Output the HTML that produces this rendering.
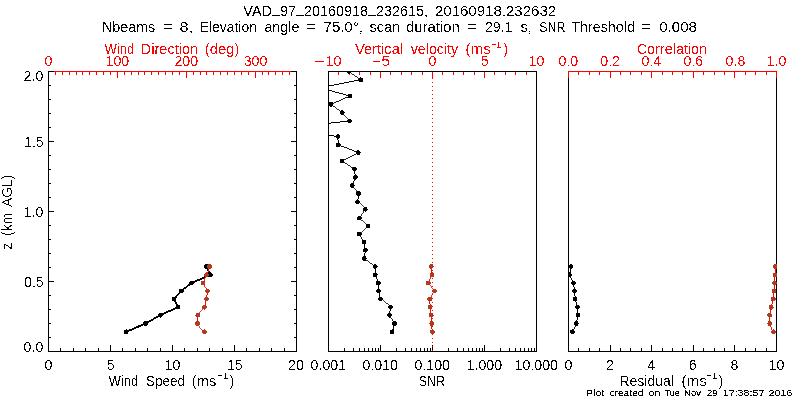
<!DOCTYPE html>
<html><head><meta charset="utf-8"><title>VAD plot</title>
<style>
html,body{margin:0;padding:0;background:#fff;width:800px;height:400px;overflow:hidden}
svg{display:block}
text{font-family:"Liberation Sans", sans-serif;word-spacing:0.2em}
</style></head><body>
<svg width="800" height="400" viewBox="0 0 800 400">
<defs>
<filter id="crisp" x="0" y="0" width="800" height="400" filterUnits="userSpaceOnUse"><feComponentTransfer><feFuncA type="discrete" tableValues="0 1"/></feComponentTransfer></filter>
<filter id="crisp3" x="0" y="0" width="800" height="400" filterUnits="userSpaceOnUse"><feComponentTransfer><feFuncA type="discrete" tableValues="0 0 0 1 1"/></feComponentTransfer></filter>
<filter id="crisp2" x="0" y="0" width="800" height="400" filterUnits="userSpaceOnUse"><feComponentTransfer><feFuncA type="discrete" tableValues="0 0 1 1 1"/></feComponentTransfer></filter>
<clipPath id="c1"><rect x="48" y="71" width="249" height="281"/></clipPath>
<clipPath id="c2"><rect x="328" y="71" width="209" height="281"/></clipPath>
<clipPath id="c3"><rect x="568" y="71" width="209" height="281"/></clipPath>
</defs>
<rect width="800" height="400" fill="#fff"/>
<g shape-rendering="crispEdges">
<rect x="48" y="71" width="249" height="1" fill="#ff0000"/>
<rect x="48" y="72" width="1" height="6" fill="#ff0000"/>
<rect x="55" y="72" width="1" height="3" fill="#ff0000"/>
<rect x="62" y="72" width="1" height="3" fill="#ff0000"/>
<rect x="69" y="72" width="1" height="3" fill="#ff0000"/>
<rect x="76" y="72" width="1" height="3" fill="#ff0000"/>
<rect x="82" y="72" width="1" height="3" fill="#ff0000"/>
<rect x="89" y="72" width="1" height="3" fill="#ff0000"/>
<rect x="96" y="72" width="1" height="3" fill="#ff0000"/>
<rect x="103" y="72" width="1" height="3" fill="#ff0000"/>
<rect x="110" y="72" width="1" height="3" fill="#ff0000"/>
<rect x="117" y="72" width="1" height="6" fill="#ff0000"/>
<rect x="124" y="72" width="1" height="3" fill="#ff0000"/>
<rect x="131" y="72" width="1" height="3" fill="#ff0000"/>
<rect x="138" y="72" width="1" height="3" fill="#ff0000"/>
<rect x="144" y="72" width="1" height="3" fill="#ff0000"/>
<rect x="151" y="72" width="1" height="3" fill="#ff0000"/>
<rect x="158" y="72" width="1" height="3" fill="#ff0000"/>
<rect x="165" y="72" width="1" height="3" fill="#ff0000"/>
<rect x="172" y="72" width="1" height="3" fill="#ff0000"/>
<rect x="179" y="72" width="1" height="3" fill="#ff0000"/>
<rect x="186" y="72" width="1" height="6" fill="#ff0000"/>
<rect x="193" y="72" width="1" height="3" fill="#ff0000"/>
<rect x="200" y="72" width="1" height="3" fill="#ff0000"/>
<rect x="206" y="72" width="1" height="3" fill="#ff0000"/>
<rect x="213" y="72" width="1" height="3" fill="#ff0000"/>
<rect x="220" y="72" width="1" height="3" fill="#ff0000"/>
<rect x="227" y="72" width="1" height="3" fill="#ff0000"/>
<rect x="234" y="72" width="1" height="3" fill="#ff0000"/>
<rect x="241" y="72" width="1" height="3" fill="#ff0000"/>
<rect x="248" y="72" width="1" height="3" fill="#ff0000"/>
<rect x="255" y="72" width="1" height="6" fill="#ff0000"/>
<rect x="262" y="72" width="1" height="3" fill="#ff0000"/>
<rect x="268" y="72" width="1" height="3" fill="#ff0000"/>
<rect x="275" y="72" width="1" height="3" fill="#ff0000"/>
<rect x="282" y="72" width="1" height="3" fill="#ff0000"/>
<rect x="289" y="72" width="1" height="3" fill="#ff0000"/>
<rect x="296" y="72" width="1" height="3" fill="#ff0000"/>
<rect x="48" y="71" width="1" height="281" fill="#000000"/>
<rect x="296" y="71" width="1" height="281" fill="#000000"/>
<rect x="48" y="351" width="249" height="1" fill="#000000"/>
<rect x="48" y="351" width="6" height="1" fill="#000000"/>
<rect x="291" y="351" width="6" height="1" fill="#000000"/>
<rect x="48" y="337" width="3" height="1" fill="#000000"/>
<rect x="294" y="337" width="3" height="1" fill="#000000"/>
<rect x="48" y="323" width="3" height="1" fill="#000000"/>
<rect x="294" y="323" width="3" height="1" fill="#000000"/>
<rect x="48" y="309" width="3" height="1" fill="#000000"/>
<rect x="294" y="309" width="3" height="1" fill="#000000"/>
<rect x="48" y="295" width="3" height="1" fill="#000000"/>
<rect x="294" y="295" width="3" height="1" fill="#000000"/>
<rect x="48" y="281" width="6" height="1" fill="#000000"/>
<rect x="291" y="281" width="6" height="1" fill="#000000"/>
<rect x="48" y="267" width="3" height="1" fill="#000000"/>
<rect x="294" y="267" width="3" height="1" fill="#000000"/>
<rect x="48" y="253" width="3" height="1" fill="#000000"/>
<rect x="294" y="253" width="3" height="1" fill="#000000"/>
<rect x="48" y="239" width="3" height="1" fill="#000000"/>
<rect x="294" y="239" width="3" height="1" fill="#000000"/>
<rect x="48" y="225" width="3" height="1" fill="#000000"/>
<rect x="294" y="225" width="3" height="1" fill="#000000"/>
<rect x="48" y="211" width="6" height="1" fill="#000000"/>
<rect x="291" y="211" width="6" height="1" fill="#000000"/>
<rect x="48" y="197" width="3" height="1" fill="#000000"/>
<rect x="294" y="197" width="3" height="1" fill="#000000"/>
<rect x="48" y="183" width="3" height="1" fill="#000000"/>
<rect x="294" y="183" width="3" height="1" fill="#000000"/>
<rect x="48" y="169" width="3" height="1" fill="#000000"/>
<rect x="294" y="169" width="3" height="1" fill="#000000"/>
<rect x="48" y="155" width="3" height="1" fill="#000000"/>
<rect x="294" y="155" width="3" height="1" fill="#000000"/>
<rect x="48" y="141" width="6" height="1" fill="#000000"/>
<rect x="291" y="141" width="6" height="1" fill="#000000"/>
<rect x="48" y="127" width="3" height="1" fill="#000000"/>
<rect x="294" y="127" width="3" height="1" fill="#000000"/>
<rect x="48" y="113" width="3" height="1" fill="#000000"/>
<rect x="294" y="113" width="3" height="1" fill="#000000"/>
<rect x="48" y="99" width="3" height="1" fill="#000000"/>
<rect x="294" y="99" width="3" height="1" fill="#000000"/>
<rect x="48" y="85" width="3" height="1" fill="#000000"/>
<rect x="294" y="85" width="3" height="1" fill="#000000"/>
<rect x="48" y="71" width="6" height="1" fill="#000000"/>
<rect x="291" y="71" width="6" height="1" fill="#000000"/>
<rect x="48" y="345" width="1" height="7" fill="#000000"/>
<rect x="60" y="348" width="1" height="4" fill="#000000"/>
<rect x="73" y="348" width="1" height="4" fill="#000000"/>
<rect x="85" y="348" width="1" height="4" fill="#000000"/>
<rect x="98" y="348" width="1" height="4" fill="#000000"/>
<rect x="110" y="345" width="1" height="7" fill="#000000"/>
<rect x="122" y="348" width="1" height="4" fill="#000000"/>
<rect x="135" y="348" width="1" height="4" fill="#000000"/>
<rect x="147" y="348" width="1" height="4" fill="#000000"/>
<rect x="160" y="348" width="1" height="4" fill="#000000"/>
<rect x="172" y="345" width="1" height="7" fill="#000000"/>
<rect x="184" y="348" width="1" height="4" fill="#000000"/>
<rect x="197" y="348" width="1" height="4" fill="#000000"/>
<rect x="209" y="348" width="1" height="4" fill="#000000"/>
<rect x="222" y="348" width="1" height="4" fill="#000000"/>
<rect x="234" y="345" width="1" height="7" fill="#000000"/>
<rect x="246" y="348" width="1" height="4" fill="#000000"/>
<rect x="259" y="348" width="1" height="4" fill="#000000"/>
<rect x="271" y="348" width="1" height="4" fill="#000000"/>
<rect x="284" y="348" width="1" height="4" fill="#000000"/>
<rect x="296" y="345" width="1" height="7" fill="#000000"/>
<g stroke="#000000" clip-path="url(#c1)"><line x1="126.20" y1="331.80" x2="145.50" y2="323.50" stroke-width="1.837"/><line x1="145.50" y1="323.50" x2="160.50" y2="315.20" stroke-width="1.750"/><line x1="160.50" y1="315.20" x2="177.80" y2="307.20" stroke-width="1.815"/><line x1="177.80" y1="307.20" x2="174.20" y2="299.00" stroke-width="1.831"/><line x1="174.20" y1="299.00" x2="181.30" y2="291.00" stroke-width="1.496"/><line x1="181.30" y1="291.00" x2="191.50" y2="283.00" stroke-width="1.574"/><line x1="191.50" y1="283.00" x2="210.40" y2="274.80" stroke-width="1.835"/><line x1="210.40" y1="274.80" x2="206.40" y2="266.50" stroke-width="1.802"/></g>
<g fill="#000000" clip-path="url(#c1)"><circle cx="126.20" cy="331.80" r="2.4"/><circle cx="145.50" cy="323.50" r="2.4"/><circle cx="160.50" cy="315.20" r="2.4"/><circle cx="177.80" cy="307.20" r="2.4"/><circle cx="174.20" cy="299.00" r="2.4"/><circle cx="181.30" cy="291.00" r="2.4"/><circle cx="191.50" cy="283.00" r="2.4"/><circle cx="210.40" cy="274.80" r="2.4"/><circle cx="206.40" cy="266.50" r="2.4"/></g>
<g stroke="#ff0000" clip-path="url(#c1)"><line x1="204.40" y1="331.80" x2="197.50" y2="323.50" stroke-width="0.769"/><line x1="197.50" y1="323.50" x2="197.75" y2="315.20" stroke-width="1.000"/><line x1="197.75" y1="315.20" x2="204.40" y2="307.20" stroke-width="0.769"/><line x1="204.40" y1="307.20" x2="206.60" y2="299.00" stroke-width="0.966"/><line x1="206.60" y1="299.00" x2="207.50" y2="291.00" stroke-width="0.994"/><line x1="207.50" y1="291.00" x2="203.00" y2="283.00" stroke-width="0.872"/><line x1="203.00" y1="283.00" x2="206.50" y2="274.80" stroke-width="0.920"/><line x1="206.50" y1="274.80" x2="209.50" y2="266.50" stroke-width="0.940"/></g>
<g fill="#b03c20" clip-path="url(#c1)"><circle cx="204.40" cy="331.80" r="2.4"/><circle cx="197.50" cy="323.50" r="2.4"/><circle cx="197.75" cy="315.20" r="2.4"/><circle cx="204.40" cy="307.20" r="2.4"/><circle cx="206.60" cy="299.00" r="2.4"/><circle cx="207.50" cy="291.00" r="2.4"/><circle cx="203.00" cy="283.00" r="2.4"/><circle cx="206.50" cy="274.80" r="2.4"/><circle cx="209.50" cy="266.50" r="2.4"/></g>
<rect x="328" y="72" width="1" height="6" fill="#ff0000"/>
<rect x="338" y="72" width="1" height="3" fill="#ff0000"/>
<rect x="349" y="72" width="1" height="3" fill="#ff0000"/>
<rect x="359" y="72" width="1" height="3" fill="#ff0000"/>
<rect x="370" y="72" width="1" height="3" fill="#ff0000"/>
<rect x="380" y="72" width="1" height="6" fill="#ff0000"/>
<rect x="390" y="72" width="1" height="3" fill="#ff0000"/>
<rect x="401" y="72" width="1" height="3" fill="#ff0000"/>
<rect x="411" y="72" width="1" height="3" fill="#ff0000"/>
<rect x="422" y="72" width="1" height="3" fill="#ff0000"/>
<rect x="432" y="72" width="1" height="6" fill="#ff0000"/>
<rect x="442" y="72" width="1" height="3" fill="#ff0000"/>
<rect x="453" y="72" width="1" height="3" fill="#ff0000"/>
<rect x="463" y="72" width="1" height="3" fill="#ff0000"/>
<rect x="474" y="72" width="1" height="3" fill="#ff0000"/>
<rect x="484" y="72" width="1" height="6" fill="#ff0000"/>
<rect x="494" y="72" width="1" height="3" fill="#ff0000"/>
<rect x="505" y="72" width="1" height="3" fill="#ff0000"/>
<rect x="515" y="72" width="1" height="3" fill="#ff0000"/>
<rect x="526" y="72" width="1" height="3" fill="#ff0000"/>
<rect x="536" y="72" width="1" height="6" fill="#ff0000"/>
<rect x="328" y="71" width="209" height="1" fill="#000000"/>
<rect x="328" y="351" width="209" height="1" fill="#000000"/>
<rect x="328" y="71" width="1" height="281" fill="#000000"/>
<rect x="536" y="71" width="1" height="281" fill="#000000"/>
<rect x="328" y="345" width="1" height="7" fill="#000000"/>
<rect x="344" y="348" width="1" height="4" fill="#000000"/>
<rect x="353" y="348" width="1" height="4" fill="#000000"/>
<rect x="359" y="348" width="1" height="4" fill="#000000"/>
<rect x="364" y="348" width="1" height="4" fill="#000000"/>
<rect x="368" y="348" width="1" height="4" fill="#000000"/>
<rect x="372" y="348" width="1" height="4" fill="#000000"/>
<rect x="375" y="348" width="1" height="4" fill="#000000"/>
<rect x="378" y="348" width="1" height="4" fill="#000000"/>
<rect x="380" y="345" width="1" height="7" fill="#000000"/>
<rect x="396" y="348" width="1" height="4" fill="#000000"/>
<rect x="405" y="348" width="1" height="4" fill="#000000"/>
<rect x="411" y="348" width="1" height="4" fill="#000000"/>
<rect x="416" y="348" width="1" height="4" fill="#000000"/>
<rect x="420" y="348" width="1" height="4" fill="#000000"/>
<rect x="424" y="348" width="1" height="4" fill="#000000"/>
<rect x="427" y="348" width="1" height="4" fill="#000000"/>
<rect x="430" y="348" width="1" height="4" fill="#000000"/>
<rect x="432" y="345" width="1" height="7" fill="#000000"/>
<rect x="448" y="348" width="1" height="4" fill="#000000"/>
<rect x="457" y="348" width="1" height="4" fill="#000000"/>
<rect x="463" y="348" width="1" height="4" fill="#000000"/>
<rect x="468" y="348" width="1" height="4" fill="#000000"/>
<rect x="472" y="348" width="1" height="4" fill="#000000"/>
<rect x="476" y="348" width="1" height="4" fill="#000000"/>
<rect x="479" y="348" width="1" height="4" fill="#000000"/>
<rect x="482" y="348" width="1" height="4" fill="#000000"/>
<rect x="484" y="345" width="1" height="7" fill="#000000"/>
<rect x="500" y="348" width="1" height="4" fill="#000000"/>
<rect x="509" y="348" width="1" height="4" fill="#000000"/>
<rect x="515" y="348" width="1" height="4" fill="#000000"/>
<rect x="520" y="348" width="1" height="4" fill="#000000"/>
<rect x="524" y="348" width="1" height="4" fill="#000000"/>
<rect x="528" y="348" width="1" height="4" fill="#000000"/>
<rect x="531" y="348" width="1" height="4" fill="#000000"/>
<rect x="534" y="348" width="1" height="4" fill="#000000"/>
<rect x="536" y="345" width="1" height="7" fill="#000000"/>
<g stroke="#000000" clip-path="url(#c2)"><line x1="392.20" y1="331.80" x2="394.50" y2="323.50" stroke-width="0.964"/><line x1="394.50" y1="323.50" x2="389.50" y2="315.20" stroke-width="0.857"/><line x1="389.50" y1="315.20" x2="390.50" y2="307.20" stroke-width="0.992"/><line x1="390.50" y1="307.20" x2="380.50" y2="299.00" stroke-width="0.773"/><line x1="380.50" y1="299.00" x2="378.50" y2="291.00" stroke-width="0.970"/><line x1="378.50" y1="291.00" x2="378.30" y2="283.00" stroke-width="1.000"/><line x1="378.30" y1="283.00" x2="375.30" y2="274.80" stroke-width="0.939"/><line x1="375.30" y1="274.80" x2="375.25" y2="266.50" stroke-width="1.000"/><line x1="375.25" y1="266.50" x2="364.40" y2="258.50" stroke-width="0.805"/><line x1="364.40" y1="258.50" x2="365.40" y2="250.25" stroke-width="0.993"/><line x1="365.40" y1="250.25" x2="364.00" y2="242.25" stroke-width="0.985"/><line x1="364.00" y1="242.25" x2="359.40" y2="234.00" stroke-width="0.873"/><line x1="359.40" y1="234.00" x2="367.90" y2="226.00" stroke-width="0.728"/><line x1="367.90" y1="226.00" x2="359.40" y2="218.10" stroke-width="0.732"/><line x1="359.40" y1="218.10" x2="365.40" y2="209.40" stroke-width="0.823"/><line x1="365.40" y1="209.40" x2="357.50" y2="201.90" stroke-width="0.725"/><line x1="357.50" y1="201.90" x2="358.50" y2="193.50" stroke-width="0.993"/><line x1="358.50" y1="193.50" x2="352.25" y2="185.60" stroke-width="0.784"/><line x1="352.25" y1="185.60" x2="355.40" y2="177.25" stroke-width="0.936"/><line x1="355.40" y1="177.25" x2="354.50" y2="169.00" stroke-width="0.994"/><line x1="354.50" y1="169.00" x2="342.00" y2="161.00" stroke-width="0.842"/><line x1="342.00" y1="161.00" x2="358.25" y2="152.60" stroke-width="0.888"/><line x1="358.25" y1="152.60" x2="338.25" y2="144.75" stroke-width="0.931"/><line x1="338.25" y1="144.75" x2="337.90" y2="136.50" stroke-width="0.999"/><line x1="337.90" y1="136.50" x2="280.00" y2="128.60" stroke-width="0.991"/><line x1="280.00" y1="128.60" x2="349.50" y2="121.00" stroke-width="0.994"/><line x1="349.50" y1="121.00" x2="342.25" y2="112.60" stroke-width="0.757"/><line x1="342.25" y1="112.60" x2="331.00" y2="104.40" stroke-width="0.808"/><line x1="331.00" y1="104.40" x2="349.75" y2="96.00" stroke-width="0.913"/><line x1="349.75" y1="96.00" x2="320.00" y2="87.80" stroke-width="0.964"/><line x1="320.00" y1="87.80" x2="360.75" y2="79.75" stroke-width="0.981"/><line x1="360.75" y1="79.75" x2="349.00" y2="71.60" stroke-width="0.822"/></g>
<g fill="#000000" clip-path="url(#c2)"><circle cx="392.20" cy="331.80" r="2.4"/><circle cx="394.50" cy="323.50" r="2.4"/><circle cx="389.50" cy="315.20" r="2.4"/><circle cx="390.50" cy="307.20" r="2.4"/><circle cx="380.50" cy="299.00" r="2.4"/><circle cx="378.50" cy="291.00" r="2.4"/><circle cx="378.30" cy="283.00" r="2.4"/><circle cx="375.30" cy="274.80" r="2.4"/><circle cx="375.25" cy="266.50" r="2.4"/><circle cx="364.40" cy="258.50" r="2.4"/><circle cx="365.40" cy="250.25" r="2.4"/><circle cx="364.00" cy="242.25" r="2.4"/><circle cx="359.40" cy="234.00" r="2.4"/><circle cx="367.90" cy="226.00" r="2.4"/><circle cx="359.40" cy="218.10" r="2.4"/><circle cx="365.40" cy="209.40" r="2.4"/><circle cx="357.50" cy="201.90" r="2.4"/><circle cx="358.50" cy="193.50" r="2.4"/><circle cx="352.25" cy="185.60" r="2.4"/><circle cx="355.40" cy="177.25" r="2.4"/><circle cx="354.50" cy="169.00" r="2.4"/><circle cx="342.00" cy="161.00" r="2.4"/><circle cx="358.25" cy="152.60" r="2.4"/><circle cx="338.25" cy="144.75" r="2.4"/><circle cx="337.90" cy="136.50" r="2.4"/><circle cx="349.50" cy="121.00" r="2.4"/><circle cx="342.25" cy="112.60" r="2.4"/><circle cx="331.00" cy="104.40" r="2.4"/><circle cx="349.75" cy="96.00" r="2.4"/><circle cx="360.75" cy="79.75" r="2.4"/><circle cx="349.00" cy="71.60" r="2.4"/></g>
<g stroke="#ff0000" clip-path="url(#c2)"><line x1="432.40" y1="331.80" x2="431.60" y2="323.50" stroke-width="0.995"/><line x1="431.60" y1="323.50" x2="431.30" y2="315.20" stroke-width="0.999"/><line x1="431.30" y1="315.20" x2="430.20" y2="307.20" stroke-width="0.991"/><line x1="430.20" y1="307.20" x2="429.70" y2="299.00" stroke-width="0.998"/><line x1="429.70" y1="299.00" x2="434.50" y2="291.00" stroke-width="0.857"/><line x1="434.50" y1="291.00" x2="428.30" y2="283.00" stroke-width="0.790"/><line x1="428.30" y1="283.00" x2="432.20" y2="274.80" stroke-width="0.903"/><line x1="432.20" y1="274.80" x2="431.30" y2="266.50" stroke-width="0.994"/></g>
<g fill="#b03c20" clip-path="url(#c2)"><circle cx="432.40" cy="331.80" r="2.4"/><circle cx="431.60" cy="323.50" r="2.4"/><circle cx="431.30" cy="315.20" r="2.4"/><circle cx="430.20" cy="307.20" r="2.4"/><circle cx="429.70" cy="299.00" r="2.4"/><circle cx="434.50" cy="291.00" r="2.4"/><circle cx="428.30" cy="283.00" r="2.4"/><circle cx="432.20" cy="274.80" r="2.4"/><circle cx="431.30" cy="266.50" r="2.4"/></g>
<rect x="432" y="74" width="1" height="1" fill="#ff0000"/>
<rect x="432" y="78" width="1" height="1" fill="#ff0000"/>
<rect x="432" y="82" width="1" height="1" fill="#ff0000"/>
<rect x="432" y="86" width="1" height="1" fill="#ff0000"/>
<rect x="432" y="90" width="1" height="1" fill="#ff0000"/>
<rect x="432" y="94" width="1" height="1" fill="#ff0000"/>
<rect x="432" y="98" width="1" height="1" fill="#ff0000"/>
<rect x="432" y="102" width="1" height="1" fill="#ff0000"/>
<rect x="432" y="106" width="1" height="1" fill="#ff0000"/>
<rect x="432" y="110" width="1" height="1" fill="#ff0000"/>
<rect x="432" y="114" width="1" height="1" fill="#ff0000"/>
<rect x="432" y="118" width="1" height="1" fill="#ff0000"/>
<rect x="432" y="122" width="1" height="1" fill="#ff0000"/>
<rect x="432" y="126" width="1" height="1" fill="#ff0000"/>
<rect x="432" y="130" width="1" height="1" fill="#ff0000"/>
<rect x="432" y="134" width="1" height="1" fill="#ff0000"/>
<rect x="432" y="138" width="1" height="1" fill="#ff0000"/>
<rect x="432" y="142" width="1" height="1" fill="#ff0000"/>
<rect x="432" y="146" width="1" height="1" fill="#ff0000"/>
<rect x="432" y="150" width="1" height="1" fill="#ff0000"/>
<rect x="432" y="154" width="1" height="1" fill="#ff0000"/>
<rect x="432" y="158" width="1" height="1" fill="#ff0000"/>
<rect x="432" y="162" width="1" height="1" fill="#ff0000"/>
<rect x="432" y="166" width="1" height="1" fill="#ff0000"/>
<rect x="432" y="170" width="1" height="1" fill="#ff0000"/>
<rect x="432" y="174" width="1" height="1" fill="#ff0000"/>
<rect x="432" y="178" width="1" height="1" fill="#ff0000"/>
<rect x="432" y="182" width="1" height="1" fill="#ff0000"/>
<rect x="432" y="186" width="1" height="1" fill="#ff0000"/>
<rect x="432" y="190" width="1" height="1" fill="#ff0000"/>
<rect x="432" y="194" width="1" height="1" fill="#ff0000"/>
<rect x="432" y="198" width="1" height="1" fill="#ff0000"/>
<rect x="432" y="202" width="1" height="1" fill="#ff0000"/>
<rect x="432" y="206" width="1" height="1" fill="#ff0000"/>
<rect x="432" y="210" width="1" height="1" fill="#ff0000"/>
<rect x="432" y="214" width="1" height="1" fill="#ff0000"/>
<rect x="432" y="218" width="1" height="1" fill="#ff0000"/>
<rect x="432" y="222" width="1" height="1" fill="#ff0000"/>
<rect x="432" y="226" width="1" height="1" fill="#ff0000"/>
<rect x="432" y="230" width="1" height="1" fill="#ff0000"/>
<rect x="432" y="234" width="1" height="1" fill="#ff0000"/>
<rect x="432" y="238" width="1" height="1" fill="#ff0000"/>
<rect x="432" y="242" width="1" height="1" fill="#ff0000"/>
<rect x="432" y="246" width="1" height="1" fill="#ff0000"/>
<rect x="432" y="250" width="1" height="1" fill="#ff0000"/>
<rect x="432" y="254" width="1" height="1" fill="#ff0000"/>
<rect x="432" y="258" width="1" height="1" fill="#ff0000"/>
<rect x="432" y="262" width="1" height="1" fill="#ff0000"/>
<rect x="432" y="266" width="1" height="1" fill="#ff0000"/>
<rect x="432" y="270" width="1" height="1" fill="#ff0000"/>
<rect x="432" y="274" width="1" height="1" fill="#ff0000"/>
<rect x="432" y="278" width="1" height="1" fill="#ff0000"/>
<rect x="432" y="282" width="1" height="1" fill="#ff0000"/>
<rect x="432" y="286" width="1" height="1" fill="#ff0000"/>
<rect x="432" y="290" width="1" height="1" fill="#ff0000"/>
<rect x="432" y="294" width="1" height="1" fill="#ff0000"/>
<rect x="432" y="298" width="1" height="1" fill="#ff0000"/>
<rect x="432" y="302" width="1" height="1" fill="#ff0000"/>
<rect x="432" y="306" width="1" height="1" fill="#ff0000"/>
<rect x="432" y="310" width="1" height="1" fill="#ff0000"/>
<rect x="432" y="314" width="1" height="1" fill="#ff0000"/>
<rect x="432" y="318" width="1" height="1" fill="#ff0000"/>
<rect x="432" y="322" width="1" height="1" fill="#ff0000"/>
<rect x="432" y="326" width="1" height="1" fill="#ff0000"/>
<rect x="432" y="330" width="1" height="1" fill="#ff0000"/>
<rect x="432" y="334" width="1" height="1" fill="#ff0000"/>
<rect x="432" y="338" width="1" height="1" fill="#ff0000"/>
<rect x="432" y="342" width="1" height="1" fill="#ff0000"/>
<rect x="432" y="346" width="1" height="1" fill="#ff0000"/>
<rect x="432" y="350" width="1" height="1" fill="#ff0000"/>
<rect x="568" y="71" width="1" height="281" fill="#000000"/>
<rect x="776" y="71" width="1" height="281" fill="#000000"/>
<rect x="568" y="351" width="209" height="1" fill="#000000"/>
<rect x="568" y="345" width="1" height="7" fill="#000000"/>
<rect x="578" y="348" width="1" height="4" fill="#000000"/>
<rect x="589" y="348" width="1" height="4" fill="#000000"/>
<rect x="599" y="348" width="1" height="4" fill="#000000"/>
<rect x="610" y="345" width="1" height="7" fill="#000000"/>
<rect x="620" y="348" width="1" height="4" fill="#000000"/>
<rect x="630" y="348" width="1" height="4" fill="#000000"/>
<rect x="641" y="348" width="1" height="4" fill="#000000"/>
<rect x="651" y="345" width="1" height="7" fill="#000000"/>
<rect x="662" y="348" width="1" height="4" fill="#000000"/>
<rect x="672" y="348" width="1" height="4" fill="#000000"/>
<rect x="682" y="348" width="1" height="4" fill="#000000"/>
<rect x="693" y="345" width="1" height="7" fill="#000000"/>
<rect x="703" y="348" width="1" height="4" fill="#000000"/>
<rect x="714" y="348" width="1" height="4" fill="#000000"/>
<rect x="724" y="348" width="1" height="4" fill="#000000"/>
<rect x="734" y="345" width="1" height="7" fill="#000000"/>
<rect x="745" y="348" width="1" height="4" fill="#000000"/>
<rect x="755" y="348" width="1" height="4" fill="#000000"/>
<rect x="766" y="348" width="1" height="4" fill="#000000"/>
<rect x="776" y="345" width="1" height="7" fill="#000000"/>
<g stroke="#000000" clip-path="url(#c3)"><line x1="572.40" y1="331.80" x2="576.40" y2="323.50" stroke-width="0.901"/><line x1="576.40" y1="323.50" x2="578.00" y2="315.20" stroke-width="0.982"/><line x1="578.00" y1="315.20" x2="577.50" y2="307.20" stroke-width="0.998"/><line x1="577.50" y1="307.20" x2="575.25" y2="299.00" stroke-width="0.964"/><line x1="575.25" y1="299.00" x2="574.50" y2="291.00" stroke-width="0.996"/><line x1="574.50" y1="291.00" x2="573.50" y2="283.00" stroke-width="0.992"/><line x1="573.50" y1="283.00" x2="569.50" y2="274.80" stroke-width="0.899"/><line x1="569.50" y1="274.80" x2="571.00" y2="266.50" stroke-width="0.984"/></g>
<g fill="#000000" clip-path="url(#c3)"><circle cx="572.40" cy="331.80" r="2.4"/><circle cx="576.40" cy="323.50" r="2.4"/><circle cx="578.00" cy="315.20" r="2.4"/><circle cx="577.50" cy="307.20" r="2.4"/><circle cx="575.25" cy="299.00" r="2.4"/><circle cx="574.50" cy="291.00" r="2.4"/><circle cx="573.50" cy="283.00" r="2.4"/><circle cx="569.50" cy="274.80" r="2.4"/><circle cx="571.00" cy="266.50" r="2.4"/></g>
<g stroke="#ff0000" clip-path="url(#c3)"><line x1="773.50" y1="331.80" x2="769.60" y2="323.50" stroke-width="0.905"/><line x1="769.60" y1="323.50" x2="769.60" y2="315.20" stroke-width="1.000"/><line x1="769.60" y1="315.20" x2="771.25" y2="307.20" stroke-width="0.979"/><line x1="771.25" y1="307.20" x2="773.30" y2="299.00" stroke-width="0.970"/><line x1="773.30" y1="299.00" x2="774.00" y2="291.00" stroke-width="0.996"/><line x1="774.00" y1="291.00" x2="774.50" y2="283.00" stroke-width="0.998"/><line x1="774.50" y1="283.00" x2="775.20" y2="274.80" stroke-width="0.996"/><line x1="775.20" y1="274.80" x2="775.20" y2="266.50" stroke-width="1.000"/></g>
<g fill="#b03c20" clip-path="url(#c3)"><circle cx="773.50" cy="331.80" r="2.4"/><circle cx="769.60" cy="323.50" r="2.4"/><circle cx="769.60" cy="315.20" r="2.4"/><circle cx="771.25" cy="307.20" r="2.4"/><circle cx="773.30" cy="299.00" r="2.4"/><circle cx="774.00" cy="291.00" r="2.4"/><circle cx="774.50" cy="283.00" r="2.4"/><circle cx="775.20" cy="274.80" r="2.4"/><circle cx="775.20" cy="266.50" r="2.4"/></g>
<rect x="568" y="71" width="209" height="1" fill="#ff0000"/>
<rect x="568" y="72" width="1" height="6" fill="#ff0000"/>
<rect x="578" y="72" width="1" height="3" fill="#ff0000"/>
<rect x="589" y="72" width="1" height="3" fill="#ff0000"/>
<rect x="599" y="72" width="1" height="3" fill="#ff0000"/>
<rect x="610" y="72" width="1" height="6" fill="#ff0000"/>
<rect x="620" y="72" width="1" height="3" fill="#ff0000"/>
<rect x="630" y="72" width="1" height="3" fill="#ff0000"/>
<rect x="641" y="72" width="1" height="3" fill="#ff0000"/>
<rect x="651" y="72" width="1" height="6" fill="#ff0000"/>
<rect x="662" y="72" width="1" height="3" fill="#ff0000"/>
<rect x="672" y="72" width="1" height="3" fill="#ff0000"/>
<rect x="682" y="72" width="1" height="3" fill="#ff0000"/>
<rect x="693" y="72" width="1" height="6" fill="#ff0000"/>
<rect x="703" y="72" width="1" height="3" fill="#ff0000"/>
<rect x="714" y="72" width="1" height="3" fill="#ff0000"/>
<rect x="724" y="72" width="1" height="3" fill="#ff0000"/>
<rect x="734" y="72" width="1" height="6" fill="#ff0000"/>
<rect x="745" y="72" width="1" height="3" fill="#ff0000"/>
<rect x="755" y="72" width="1" height="3" fill="#ff0000"/>
<rect x="766" y="72" width="1" height="3" fill="#ff0000"/>
<rect x="776" y="72" width="1" height="6" fill="#ff0000"/>
</g>
<g filter="url(#crisp)">
<text x="243.35" y="16" fill="#000000" font-size="14.2" textLength="184.78" lengthAdjust="spacingAndGlyphs">VAD<tspan dy="-3">_</tspan><tspan dy="3">97</tspan><tspan dy="-3">_</tspan><tspan dy="3">20160918</tspan><tspan dy="-3">_</tspan><tspan dy="3">232615,</tspan></text>
<text x="434.95" y="16" fill="#000000" font-size="14.2" textLength="121.21" lengthAdjust="spacingAndGlyphs">20160918.232632</text>
<text x="101.93" y="32" fill="#000000" font-size="14.2" textLength="53.32" lengthAdjust="spacingAndGlyphs">Nbeams</text>
<text x="162.70" y="32" fill="#000000" font-size="14.2" textLength="9.93" lengthAdjust="spacingAndGlyphs">=</text>
<text x="179.64" y="32" fill="#000000" font-size="14.2" textLength="13.63" lengthAdjust="spacingAndGlyphs">8,</text>
<text x="199.66" y="32" fill="#000000" font-size="14.2" textLength="57.27" lengthAdjust="spacingAndGlyphs">Elevation</text>
<text x="264.40" y="32" fill="#000000" font-size="14.2" textLength="35.03" lengthAdjust="spacingAndGlyphs">angle</text>
<text x="305.98" y="32" fill="#000000" font-size="14.2" textLength="10.22" lengthAdjust="spacingAndGlyphs">=</text>
<text x="323.55" y="32" fill="#000000" font-size="14.2" textLength="39.32" lengthAdjust="spacingAndGlyphs">75.0°,</text>
<text x="369.47" y="32" fill="#000000" font-size="14.2" textLength="30.69" lengthAdjust="spacingAndGlyphs">scan</text>
<text x="406.08" y="32" fill="#000000" font-size="14.2" textLength="53.80" lengthAdjust="spacingAndGlyphs">duration</text>
<text x="466.83" y="32" fill="#000000" font-size="14.2" textLength="10.28" lengthAdjust="spacingAndGlyphs">=</text>
<text x="484.89" y="32" fill="#000000" font-size="14.2" textLength="27.54" lengthAdjust="spacingAndGlyphs">29.1</text>
<text x="520.57" y="32" fill="#000000" font-size="14.2" textLength="11.31" lengthAdjust="spacingAndGlyphs">s,</text>
<text x="539.26" y="32" fill="#000000" font-size="14.2" textLength="26.17" lengthAdjust="spacingAndGlyphs">SNR</text>
<text x="571.33" y="32" fill="#000000" font-size="14.2" textLength="63.53" lengthAdjust="spacingAndGlyphs">Threshold</text>
<text x="641.25" y="32" fill="#000000" font-size="14.2" textLength="9.93" lengthAdjust="spacingAndGlyphs">=</text>
<text x="659.28" y="32" fill="#000000" font-size="14.2" textLength="37.58" lengthAdjust="spacingAndGlyphs">0.008</text>
<text x="104.85" y="54" fill="#ff0000" font-size="14.2" textLength="29.22" lengthAdjust="spacingAndGlyphs">Wind</text>
<text x="140.82" y="54" fill="#ff0000" font-size="14.2" textLength="57.30" lengthAdjust="spacingAndGlyphs">Direction</text>
<text x="204.86" y="54" fill="#ff0000" font-size="14.2" textLength="34.46" lengthAdjust="spacingAndGlyphs">(deg)</text>
<text x="354.90" y="54" fill="#ff0000" font-size="14.2" textLength="48.22" lengthAdjust="spacingAndGlyphs">Vertical</text>
<text x="410.75" y="54" fill="#ff0000" font-size="14.2" textLength="47.30" lengthAdjust="spacingAndGlyphs">velocity</text>
<text x="465.43" y="54" fill="#ff0000" font-size="14.2" textLength="25.50" lengthAdjust="spacingAndGlyphs">(ms</text>
<text x="503.30" y="54" fill="#ff0000" font-size="14.2" textLength="5.15" lengthAdjust="spacingAndGlyphs">)</text>
<text x="636.67" y="54" fill="#ff0000" font-size="14.2" textLength="70.48" lengthAdjust="spacingAndGlyphs">Correlation</text>
<text x="44.46" y="66" fill="#ff0000" font-size="14.2" textLength="7.90" lengthAdjust="spacingAndGlyphs">0</text>
<text x="105.54" y="66" fill="#ff0000" font-size="14.2" textLength="23.69" lengthAdjust="spacingAndGlyphs">100</text>
<text x="174.45" y="66" fill="#ff0000" font-size="14.2" textLength="23.69" lengthAdjust="spacingAndGlyphs">200</text>
<text x="243.66" y="66" fill="#ff0000" font-size="14.2" textLength="23.69" lengthAdjust="spacingAndGlyphs">300</text>
<text x="313.49" y="66" fill="#ff0000" font-size="14.2" textLength="10.75" lengthAdjust="spacingAndGlyphs">−</text>
<text x="325.45" y="66" fill="#ff0000" font-size="14.2" textLength="15.95" lengthAdjust="spacingAndGlyphs">10</text>
<text x="371.40" y="66" fill="#ff0000" font-size="14.2" textLength="9.34" lengthAdjust="spacingAndGlyphs">−</text>
<text x="381.49" y="66" fill="#ff0000" font-size="14.2" textLength="8.27" lengthAdjust="spacingAndGlyphs">5</text>
<text x="428.46" y="66" fill="#ff0000" font-size="14.2" textLength="7.90" lengthAdjust="spacingAndGlyphs">0</text>
<text x="480.67" y="66" fill="#ff0000" font-size="14.2" textLength="7.90" lengthAdjust="spacingAndGlyphs">5</text>
<text x="528.49" y="66" fill="#ff0000" font-size="14.2" textLength="15.79" lengthAdjust="spacingAndGlyphs">10</text>
<text x="558.43" y="66" fill="#ff0000" font-size="14.2" textLength="19.74" lengthAdjust="spacingAndGlyphs">0.0</text>
<text x="600.25" y="66" fill="#ff0000" font-size="14.2" textLength="19.74" lengthAdjust="spacingAndGlyphs">0.2</text>
<text x="641.43" y="66" fill="#ff0000" font-size="14.2" textLength="19.74" lengthAdjust="spacingAndGlyphs">0.4</text>
<text x="683.45" y="66" fill="#ff0000" font-size="14.2" textLength="19.74" lengthAdjust="spacingAndGlyphs">0.6</text>
<text x="725.55" y="66" fill="#ff0000" font-size="14.2" textLength="19.74" lengthAdjust="spacingAndGlyphs">0.8</text>
<text x="766.61" y="66" fill="#ff0000" font-size="14.2" textLength="19.74" lengthAdjust="spacingAndGlyphs">1.0</text>
<text x="23.56" y="81" fill="#000000" font-size="14.2" textLength="19.74" lengthAdjust="spacingAndGlyphs">2.0</text>
<text x="23.99" y="147" fill="#000000" font-size="14.2" textLength="19.74" lengthAdjust="spacingAndGlyphs">1.5</text>
<text x="23.56" y="217" fill="#000000" font-size="14.2" textLength="19.74" lengthAdjust="spacingAndGlyphs">1.0</text>
<text x="23.99" y="287" fill="#000000" font-size="14.2" textLength="19.74" lengthAdjust="spacingAndGlyphs">0.5</text>
<text x="23.56" y="352" fill="#000000" font-size="14.2" textLength="19.74" lengthAdjust="spacingAndGlyphs">0.0</text>
<text x="44.46" y="370" fill="#000000" font-size="14.2" textLength="7.90" lengthAdjust="spacingAndGlyphs">0</text>
<text x="106.67" y="370" fill="#000000" font-size="14.2" textLength="7.90" lengthAdjust="spacingAndGlyphs">5</text>
<text x="164.49" y="370" fill="#000000" font-size="14.2" textLength="15.79" lengthAdjust="spacingAndGlyphs">10</text>
<text x="226.90" y="370" fill="#000000" font-size="14.2" textLength="15.79" lengthAdjust="spacingAndGlyphs">15</text>
<text x="288.00" y="370" fill="#000000" font-size="14.2" textLength="15.79" lengthAdjust="spacingAndGlyphs">20</text>
<text x="310.55" y="370" fill="#000000" font-size="14.2" textLength="35.53" lengthAdjust="spacingAndGlyphs">0.001</text>
<text x="362.44" y="370" fill="#000000" font-size="14.2" textLength="35.53" lengthAdjust="spacingAndGlyphs">0.010</text>
<text x="414.44" y="370" fill="#000000" font-size="14.2" textLength="35.53" lengthAdjust="spacingAndGlyphs">0.100</text>
<text x="466.62" y="370" fill="#000000" font-size="14.2" textLength="35.53" lengthAdjust="spacingAndGlyphs">1.000</text>
<text x="514.57" y="370" fill="#000000" font-size="14.2" textLength="43.43" lengthAdjust="spacingAndGlyphs">10.000</text>
<text x="564.46" y="370" fill="#000000" font-size="14.2" textLength="7.90" lengthAdjust="spacingAndGlyphs">0</text>
<text x="605.96" y="370" fill="#000000" font-size="14.2" textLength="7.90" lengthAdjust="spacingAndGlyphs">2</text>
<text x="647.37" y="370" fill="#000000" font-size="14.2" textLength="7.90" lengthAdjust="spacingAndGlyphs">4</text>
<text x="688.86" y="370" fill="#000000" font-size="14.2" textLength="7.90" lengthAdjust="spacingAndGlyphs">6</text>
<text x="730.57" y="370" fill="#000000" font-size="14.2" textLength="7.90" lengthAdjust="spacingAndGlyphs">8</text>
<text x="768.49" y="370" fill="#000000" font-size="14.2" textLength="15.79" lengthAdjust="spacingAndGlyphs">10</text>
<text x="108.85" y="386" fill="#000000" font-size="14.2" textLength="29.27" lengthAdjust="spacingAndGlyphs">Wind</text>
<text x="145.83" y="386" fill="#000000" font-size="14.2" textLength="39.29" lengthAdjust="spacingAndGlyphs">Speed</text>
<text x="191.87" y="386" fill="#000000" font-size="14.2" textLength="24.34" lengthAdjust="spacingAndGlyphs">(ms</text>
<text x="229.55" y="386" fill="#000000" font-size="14.2" textLength="4.74" lengthAdjust="spacingAndGlyphs">)</text>
<text x="418.66" y="386" fill="#000000" font-size="14.2" textLength="26.43" lengthAdjust="spacingAndGlyphs">SNR</text>
<text x="619.40" y="386" fill="#000000" font-size="14.2" textLength="54.57" lengthAdjust="spacingAndGlyphs">Residual</text>
<text x="681.54" y="386" fill="#000000" font-size="14.2" textLength="25.18" lengthAdjust="spacingAndGlyphs">(ms</text>
<text x="718.65" y="386" fill="#000000" font-size="14.2" textLength="4.50" lengthAdjust="spacingAndGlyphs">)</text>
</g>
<g filter="url(#crisp3)">
<text transform="translate(11.55,249.43) rotate(-90)" fill="#000000" font-size="14.2" textLength="74.64" lengthAdjust="spacingAndGlyphs">z (km AGL)</text>
</g>
<g filter="url(#crisp2)">
<text x="491.03" y="48" fill="#ff0000" font-size="9.5" textLength="10.13" lengthAdjust="spacingAndGlyphs">−1</text>
<text x="217.18" y="379" fill="#000000" font-size="9.5" textLength="11.32" lengthAdjust="spacingAndGlyphs">−1</text>
<text x="706.19" y="379" fill="#000000" font-size="9.5" textLength="11.16" lengthAdjust="spacingAndGlyphs">−1</text>
<text x="586.03" y="396" fill="#000000" font-size="9.9" textLength="18.19" lengthAdjust="spacingAndGlyphs">Plot</text>
<text x="609.43" y="396" fill="#000000" font-size="9.9" textLength="34.09" lengthAdjust="spacingAndGlyphs">created</text>
<text x="648.52" y="396" fill="#000000" font-size="9.9" textLength="11.72" lengthAdjust="spacingAndGlyphs">on</text>
<text x="664.41" y="396" fill="#000000" font-size="9.9" textLength="15.62" lengthAdjust="spacingAndGlyphs">Tue</text>
<text x="684.00" y="396" fill="#000000" font-size="9.9" textLength="17.05" lengthAdjust="spacingAndGlyphs">Nov</text>
<text x="706.68" y="396" fill="#000000" font-size="9.9" textLength="11.07" lengthAdjust="spacingAndGlyphs">29</text>
<text x="722.78" y="396" fill="#000000" font-size="9.9" textLength="41.60" lengthAdjust="spacingAndGlyphs">17:38:57</text>
<text x="768.44" y="396" fill="#000000" font-size="9.9" textLength="24.15" lengthAdjust="spacingAndGlyphs">2016</text>
</g>
</svg>
</body></html>
